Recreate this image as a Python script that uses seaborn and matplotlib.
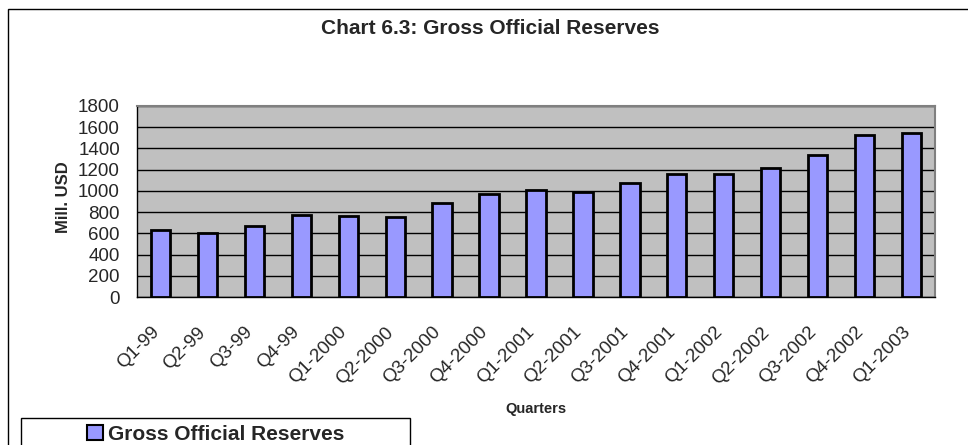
import pandas as pd
import matplotlib.pyplot as plt
import matplotlib.transforms as mtransforms
import seaborn as sns
from matplotlib.patches import Patch, Rectangle
from matplotlib.ticker import FixedLocator, NullFormatter

quarters = ["Q1-99", "Q2-99", "Q3-99", "Q4-99",
            "Q1-2000", "Q2-2000", "Q3-2000", "Q4-2000",
            "Q1-2001", "Q2-2001", "Q3-2001", "Q4-2001",
            "Q1-2002", "Q2-2002", "Q3-2002", "Q4-2002",
            "Q1-2003"]
reserves = [634, 606, 666, 773, 764, 751, 890, 975,
            1008, 985, 1076, 1158, 1162, 1215, 1338, 1531, 1550]
yticks = [0, 200, 400, 600, 800, 1000, 1200, 1400, 1600, 1800]

df = pd.DataFrame({"Quarter": quarters, "Reserves": reserves})

sns.set_style("white")
plt.rcParams["font.family"] = ["Liberation Sans", "DejaVu Sans"]

W, H = 968, 445
fig = plt.figure(figsize=(W / 100, H / 100), dpi=100)
ax = fig.add_axes([137 / W, 1 - 297 / H, (935 - 137) / W, (297 - 106) / H])
ax.set_facecolor("#C0C0C0")

sns.barplot(data=df, x="Quarter", y="Reserves", color="#9999FF",
            saturation=1, width=0.41, edgecolor="black", linewidth=2,
            ax=ax, zorder=3)

ax.set_ylim(0, 1800)
ax.set_xlim(-0.5, len(quarters) - 0.5)
ax.set_yticks(yticks)
ax.yaxis.grid(True, color="black", linewidth=1)
ax.set_axisbelow(True)

# ticks between the categories
ax.xaxis.set_minor_locator(FixedLocator([i - 0.5 for i in range(len(quarters) + 1)]))
ax.xaxis.set_minor_formatter(NullFormatter())
ax.tick_params(axis="x", which="major", length=0, pad=23.5)
ax.tick_params(axis="x", which="minor", length=3.6, width=1, color="black", direction="out")
ax.tick_params(axis="y", length=4.3, width=1, color="black", direction="out",
               labelsize=13.5, pad=8)
shift = mtransforms.ScaledTranslation(-4 / 100, 0, fig.dpi_scale_trans)
for lab in ax.get_xticklabels():
    lab.set_rotation(45)
    lab.set_ha("right")
    lab.set_va("center")
    lab.set_rotation_mode("anchor")
    lab.set_fontsize(13.5)
    lab.set_transform(lab.get_transform() + shift)

for side in ["top", "right"]:
    ax.spines[side].set_color("#808080")
    ax.spines[side].set_linewidth(1.5)
for side in ["left", "bottom"]:
    ax.spines[side].set_color("black")
    ax.spines[side].set_linewidth(1)

ax.set_xlabel("Quarters", fontsize=10.5, fontweight="bold", va="center")
ax.xaxis.set_label_coords(0.5, -0.586)
ax.set_ylabel("Mill. USD", fontsize=12, fontweight="bold", va="center")
ax.yaxis.set_label_coords(-0.0915, 0.524)

fig.text(490 / W, 1 - 28 / H, "Chart 6.3: Gross Official Reserves",
         ha="center", va="center", fontsize=15, fontweight="bold")

# outer chart frame (runs off the right and bottom edges)
fig.patches.append(Rectangle((8 / W, -0.05), 1.0, 1.05 - 9 / H,
                             transform=fig.transFigure, fill=False,
                             edgecolor="black", linewidth=1))

# legend box
fig.patches.append(Rectangle((21 / W, -0.05), (410 - 21) / W, 0.05 + 1 - 418 / H,
                             transform=fig.transFigure, fill=True, facecolor="white",
                             edgecolor="black", linewidth=1))
fig.legend(handles=[Patch(facecolor="#9999FF", edgecolor="black", linewidth=1.5)],
           labels=["Gross Official Reserves"], loc="center",
           bbox_to_anchor=(216 / W, 1 - 434 / H), frameon=False, borderaxespad=0,
           prop={"weight": "bold", "size": 15}, handlelength=0.75, handleheight=0.75,
           handletextpad=0.25, borderpad=0)

fig.savefig("out.png", dpi=100)
